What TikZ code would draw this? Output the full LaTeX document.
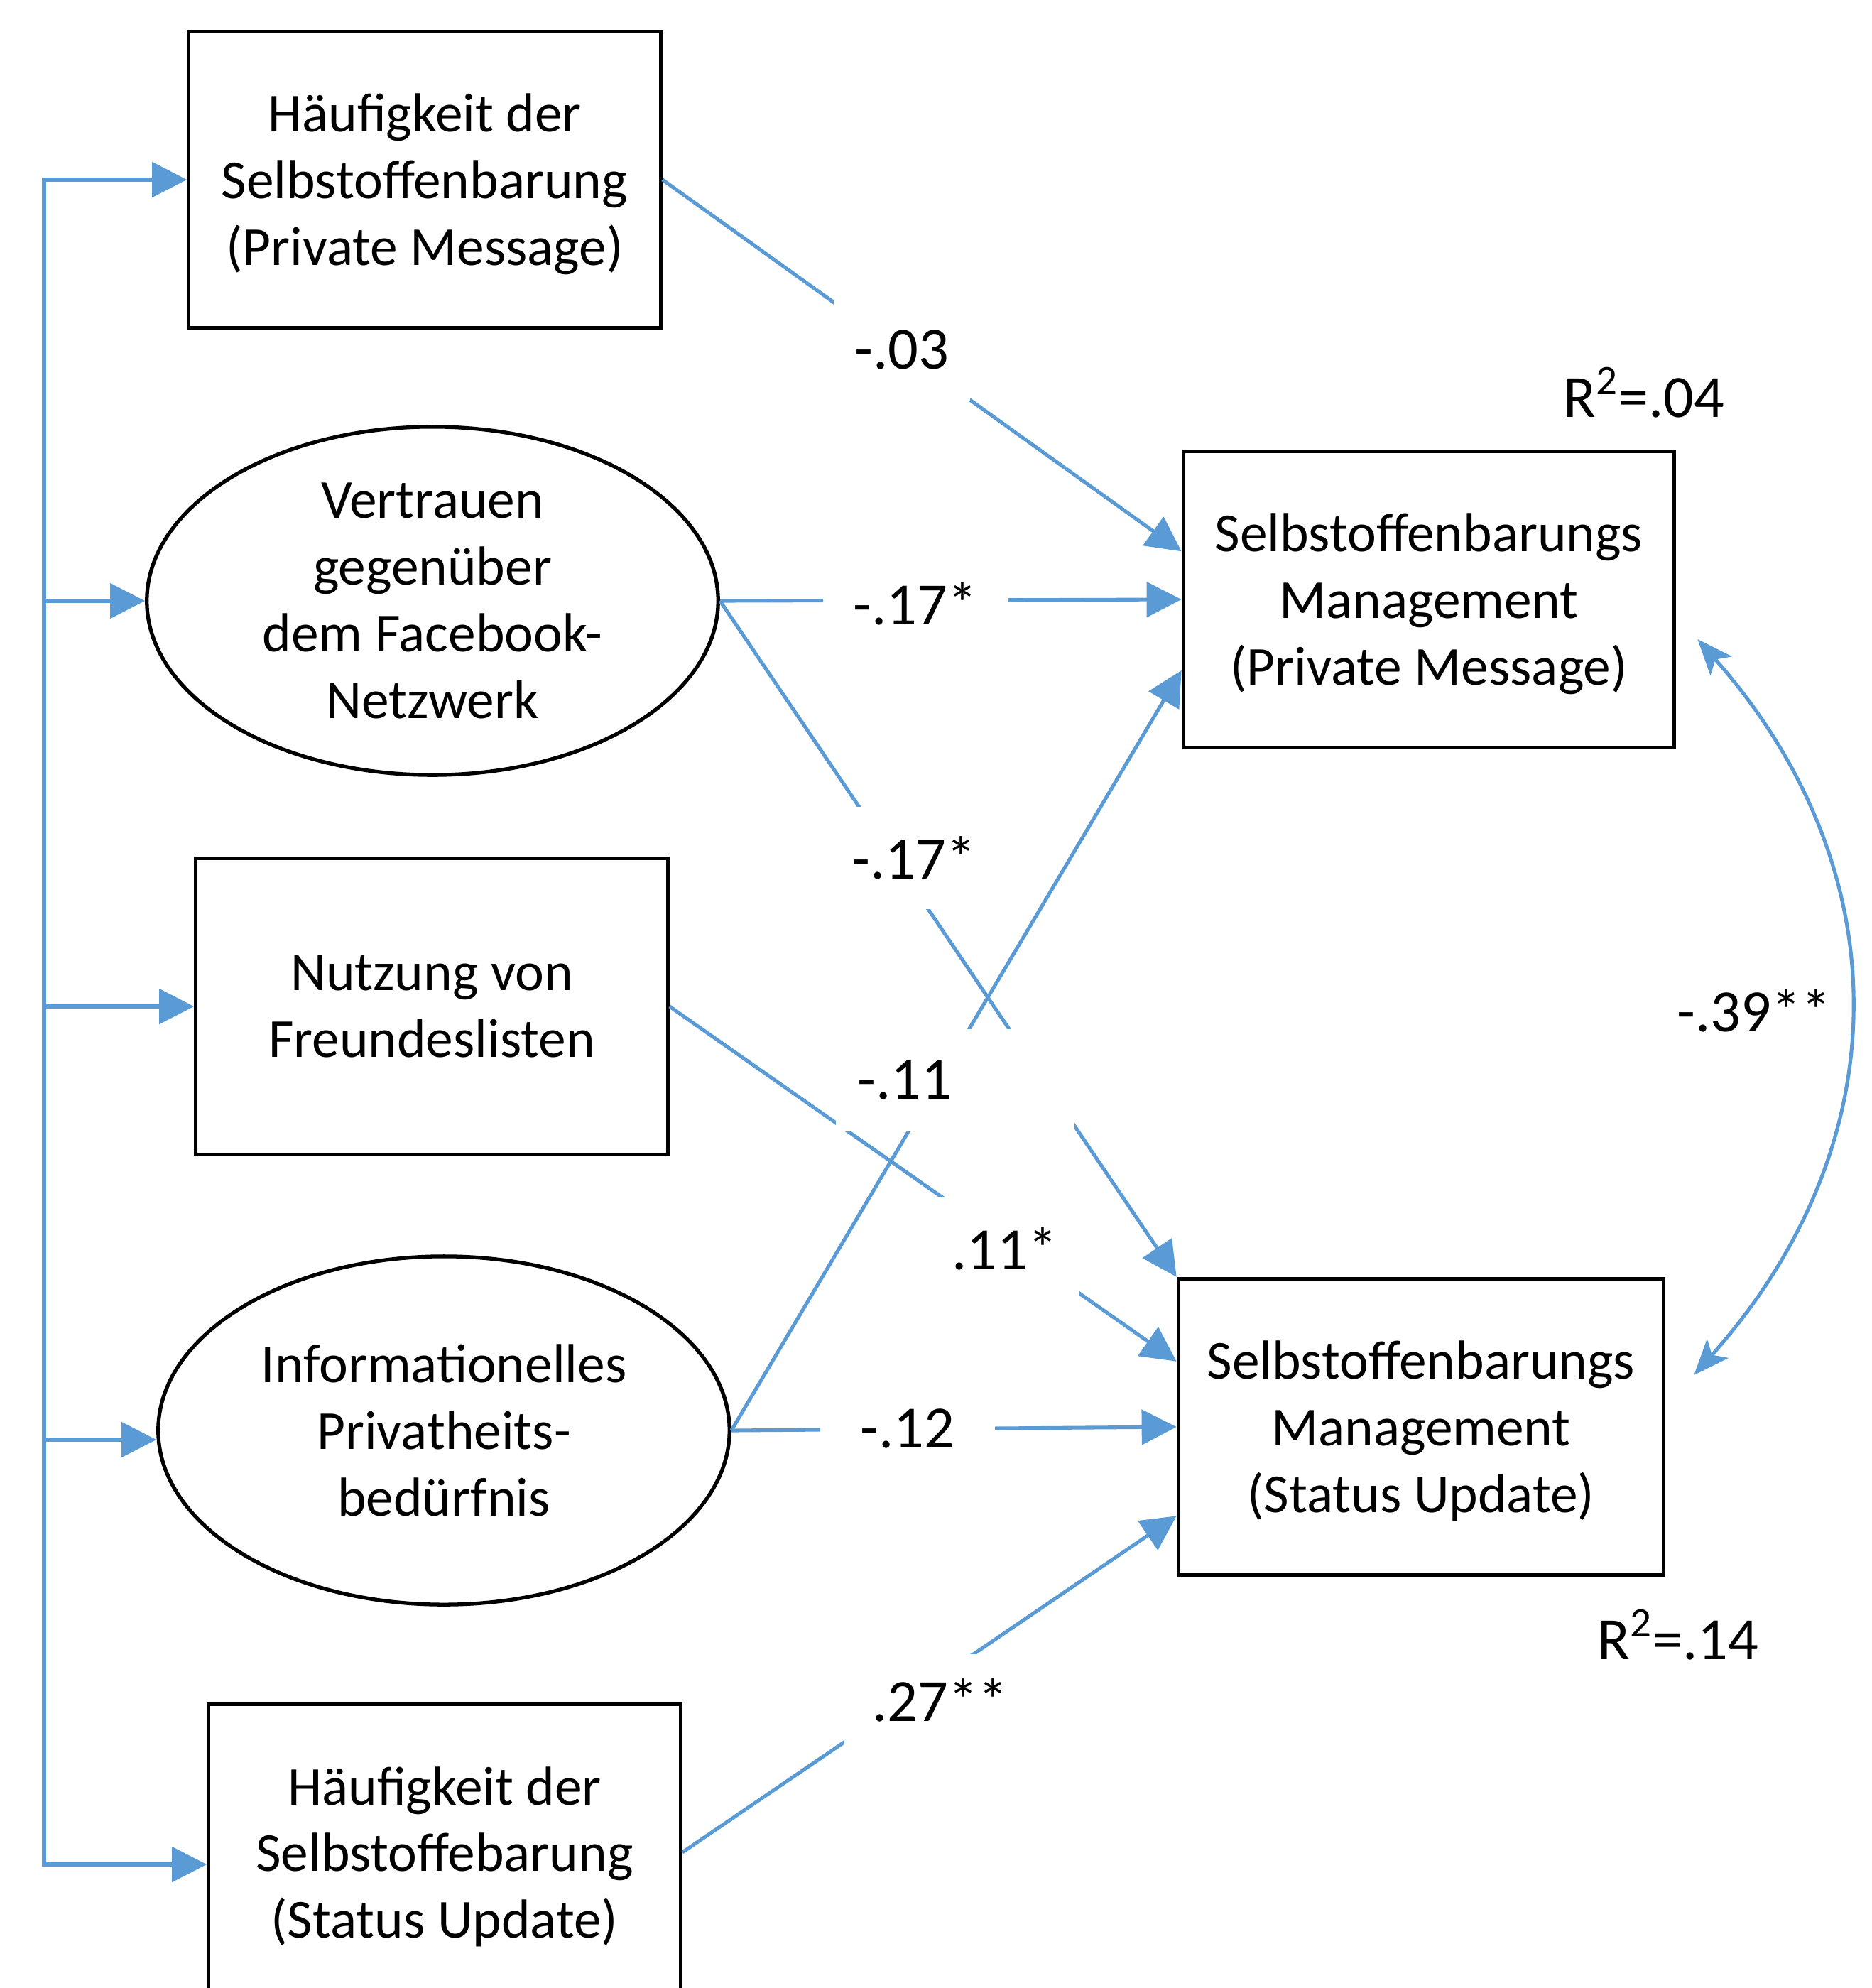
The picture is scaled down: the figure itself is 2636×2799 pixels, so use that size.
\documentclass[tikz,border=0pt]{standalone}
\usepackage{fontspec}
\setmainfont{Carlito}
\usepackage{tikz}
\usetikzlibrary{arrows.meta,shapes.geometric}
\definecolor{pathblue}{HTML}{5B9BD5}
\newcommand{\boxfont}{\fontsize{22}{26.7}\selectfont}
\newcommand{\coeffont}{\fontsize{24}{28}\selectfont}
\tikzset{
  varbox/.style={
    rectangle, draw=black, line width=1.5pt,
    minimum width=6.64cm, minimum height=4.17cm,
    font=\boxfont, align=center, inner sep=0pt, text depth=0pt
  },
  latent/.style={
    ellipse, draw=black, line width=1.5pt,
    minimum width=8.04cm, minimum height=4.9cm,
    font=\boxfont, align=center, inner xsep=0pt, inner ysep=-0.4cm
  },
  patharrow/.style={
    -{Triangle[length=0.49cm, width=0.49cm]}, line width=1.45pt, draw=pathblue
  },
  busline/.style={line width=1.45pt, draw=pathblue, line cap=rect},
  covarrow/.style={
    {Stealth[length=0.5cm, width=0.4cm, inset=0.12cm]}-{Stealth[length=0.5cm, width=0.4cm, inset=0.12cm]},
    line width=1.45pt, draw=pathblue
  },
  coef/.style={
    fill=white, font=\coeffont,
    inner xsep=0.3cm, inner ysep=0pt, minimum height=1.43cm
  },
  rsq/.style={font=\coeffont, inner sep=0pt},
}

\begin{document}
\begin{tikzpicture}[x=0.01cm, y=-0.01cm]
\path[use as bounding box, clip] (0,0) rectangle (2636,2799);

% Predictors
\node[varbox] (hpm) at (598,253) {Häufigkeit der\\Selbstoffenbarung\\(Private Message)};
\node[latent] (vtr) at (609,846) {Vertrauen\\gegenüber\\dem Facebook-\\Netzwerk};
\node[varbox] (nfl) at (608,1417) {Nutzung von\\Freundeslisten};
\node[latent] (ipb) at (625,2014) {Informationelles\\Privatheits-\\bedürfnis};
\node[varbox] (hsu) at (626,2608) {Häufigkeit der\\Selbstoffebarung\\(Status Update)};

% Outcomes
\node[varbox, minimum width=6.91cm] (pm) at (2012,844) {Selbstoffenbarungs\\Management\\(Private Message)};
\node[varbox, minimum width=6.83cm] (su) at (2001,2009) {Selbstoffenbarungs\\Management\\(Status Update)};

% Bus on the left
\coordinate (bus) at (62,0);
\coordinate (in4) at ([yshift=-0.13cm]ipb.west);
\coordinate (in5) at ([yshift=-0.17cm]hsu.west);
\draw[busline] (bus |- hpm.west) -- (bus |- in5);
\foreach \n in {hpm.west, vtr.west, nfl.west, in4, in5}
  \draw[patharrow] (bus |- \n) -- (\n);

% Paths
\draw[patharrow] (hpm.east) -- (pm.169);
\draw[patharrow] (vtr.east) -- (pm.west);
\draw[patharrow] (vtr.east) -- (su.north west);
\draw[patharrow] (nfl.east) -- (su.165);
\draw[patharrow] (ipb.east) -- (pm.196);
\draw[patharrow] (ipb.east) -- (su.west);
\draw[patharrow] (hsu.east) -- (su.200);

% Residual correlation
\draw[covarrow] ([shift={(30,56)}]pm.east) .. controls +(287,325) and +(290,-325) .. ([shift={(40,-73)}]su.east);

% Coefficients
\node[coef, minimum width=1.9cm] (c1) at (1270,492) {-.03};
\node[coef, minimum width=2.6cm] (c2) at (1289,850) {-.17*};
\node[coef] (c3) at (1287,1208) {-.17*};
\node[coef, text width=2.75cm, align=left] (c4) at (1345,1521) {-.11};
\node[coef] (c5) at (1415,1758) {.11*};
\node[coef, minimum width=2.45cm] (c6) at (1278,2011) {-.12};
\node[coef, inner xsep=0.4cm, minimum height=1.3cm] (c7) at (1324,2394) {.27**};
\node[font=\coeffont] (c8) at (2470,1423) {-.39**};
\node[rsq] (r1) at (2315,553) {R\textsuperscript{2}=.04};
\node[rsq] (r2) at (2363,2302) {R\textsuperscript{2}=.14};

\end{tikzpicture}
\end{document}
